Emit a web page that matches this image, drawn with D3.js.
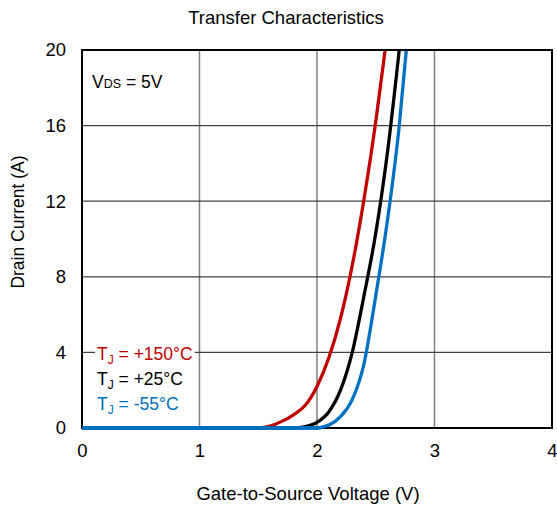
<!DOCTYPE html>
<html><head><meta charset="utf-8">
<script src="https://cdn.jsdelivr.net/npm/d3@7"></script>
<style>body{margin:0;background:#fff;} svg{display:block;} text{font-family:"Liberation Sans",Arial,sans-serif;}</style>
</head><body>
<svg id="c" width="557" height="506"></svg>
<script>
const xTicks = [0,1,2,3,4];
const yTicks = [0,4,8,12,16,20];
const red150 = [[0,0],[1.5,0],[1.6,0.1],[1.7,0.35],[1.8,0.7],[1.9,1.2],[2.0,2.2],[2.1,3.7],[2.2,5.8],[2.3,8.6],[2.4,12.1],[2.5,16.2],[2.58,20]];
const black25 = [[0,0],[1.8,0],[1.9,0.08],[2.0,0.3],[2.1,0.85],[2.2,2.0],[2.3,4.0],[2.4,7.0],[2.5,10.3],[2.6,14.6],[2.7,20]];
const blue55 = [[0,0],[2.0,0],[2.1,0.15],[2.2,0.6],[2.3,1.5],[2.4,3.4],[2.5,7.0],[2.6,11.0],[2.7,16.0],[2.76,20]];
const seriesNames = ["+150°C","+25°C","-55°C"];
const seriesColors = ["#C00000","#000000","#0070C0"];

const svg = d3.select("#c");
const L=82,R=552,T=50,B=428;
const x = d3.scaleLinear().domain([0,4]).range([L,R]);
const y = d3.scaleLinear().domain([0,20]).range([B,T]);

// gridlines
svg.append("g").selectAll("line").data(xTicks.slice(1,-1)).join("line")
  .attr("x1",d=>x(d)).attr("x2",d=>x(d)).attr("y1",T).attr("y2",B)
  .attr("stroke","#7f7f7f").attr("stroke-width",1.5);
svg.append("g").selectAll("line").data(yTicks.slice(1,-1)).join("line")
  .attr("x1",L).attr("x2",R).attr("y1",d=>y(d)).attr("y2",d=>y(d))
  .attr("stroke","#404040").attr("stroke-width",1.2);

// axes labels
const xa = d3.axisBottom(x).tickValues(xTicks).tickFormat(d3.format("d")).tickSize(0).tickPadding(16);
svg.append("g").attr("transform",`translate(0,${B})`).call(xa)
  .attr("font-family",null)
  .call(g=>g.select(".domain").remove())
  .selectAll("text").attr("font-size",18.5).attr("fill","#000");
const ya = d3.axisLeft(y).tickValues(yTicks).tickFormat(d3.format("d")).tickSize(0).tickPadding(16);
svg.append("g").attr("transform",`translate(${L},0)`).call(ya)
  .attr("font-family",null)
  .call(g=>g.select(".domain").remove())
  .selectAll("text").attr("font-size",18.5).attr("fill","#000");

// legend backgrounds and text
const legBase=[360,385,410];
const leg = svg.append("g");
seriesNames.forEach((n,i)=>{
  const t = leg.append("text").attr("x",97).attr("y",legBase[i]).attr("font-size",17.5).attr("fill",seriesColors[i]);
  t.append("tspan").text("T");
  t.append("tspan").text("J").attr("font-size",12).attr("dy",4);
  t.append("tspan").text(" = "+n).attr("dy",-4);
  const bb = t.node().getBBox();
  leg.insert("rect","text").attr("x",bb.x-2).attr("y",bb.y).attr("width",bb.width+4).attr("height",bb.height).attr("fill","#fff");
});

// curves
const line = d3.line().x(d=>x(d[0])).y(d=>y(d[1])).curve(d3.curveMonotoneX);
svg.append("clipPath").attr("id","pc").append("rect").attr("x",L).attr("y",T-2).attr("width",R-L).attr("height",B-T+4);
[red150,black25,blue55].forEach((s,i)=>{
  svg.append("path").datum(s).attr("d",line).attr("fill","none")
    .attr("stroke",seriesColors[i]).attr("stroke-width",3.3).attr("clip-path","url(#pc)");
});

// frame
svg.append("rect").attr("x",L).attr("y",T).attr("width",R-L).attr("height",B-T)
  .attr("fill","none").attr("stroke","#000").attr("stroke-width",2);
// blue baseline on top of the frame bottom
svg.append("path").datum(blue55.slice(0,3)).attr("d",line).attr("fill","none")
  .attr("stroke",seriesColors[2]).attr("stroke-width",3.3);

// VDS label
const v = svg.append("text").attr("x",92).attr("y",88).attr("font-size",17.5);
v.append("tspan").text("V");
v.append("tspan").text("DS").attr("font-size",12.5);
v.append("tspan").text(" = 5V");

// titles
svg.append("text").attr("x",286).attr("y",24).attr("text-anchor","middle").attr("font-size",18.5).text("Transfer Characteristics");
svg.append("text").attr("x",308).attr("y",500).attr("text-anchor","middle").attr("font-size",18.5).text("Gate-to-Source Voltage (V)");
svg.append("text").attr("transform","translate(24,222) rotate(-90)").attr("text-anchor","middle").attr("font-size",17.5).text("Drain Current (A)");
</script>
</body></html>
